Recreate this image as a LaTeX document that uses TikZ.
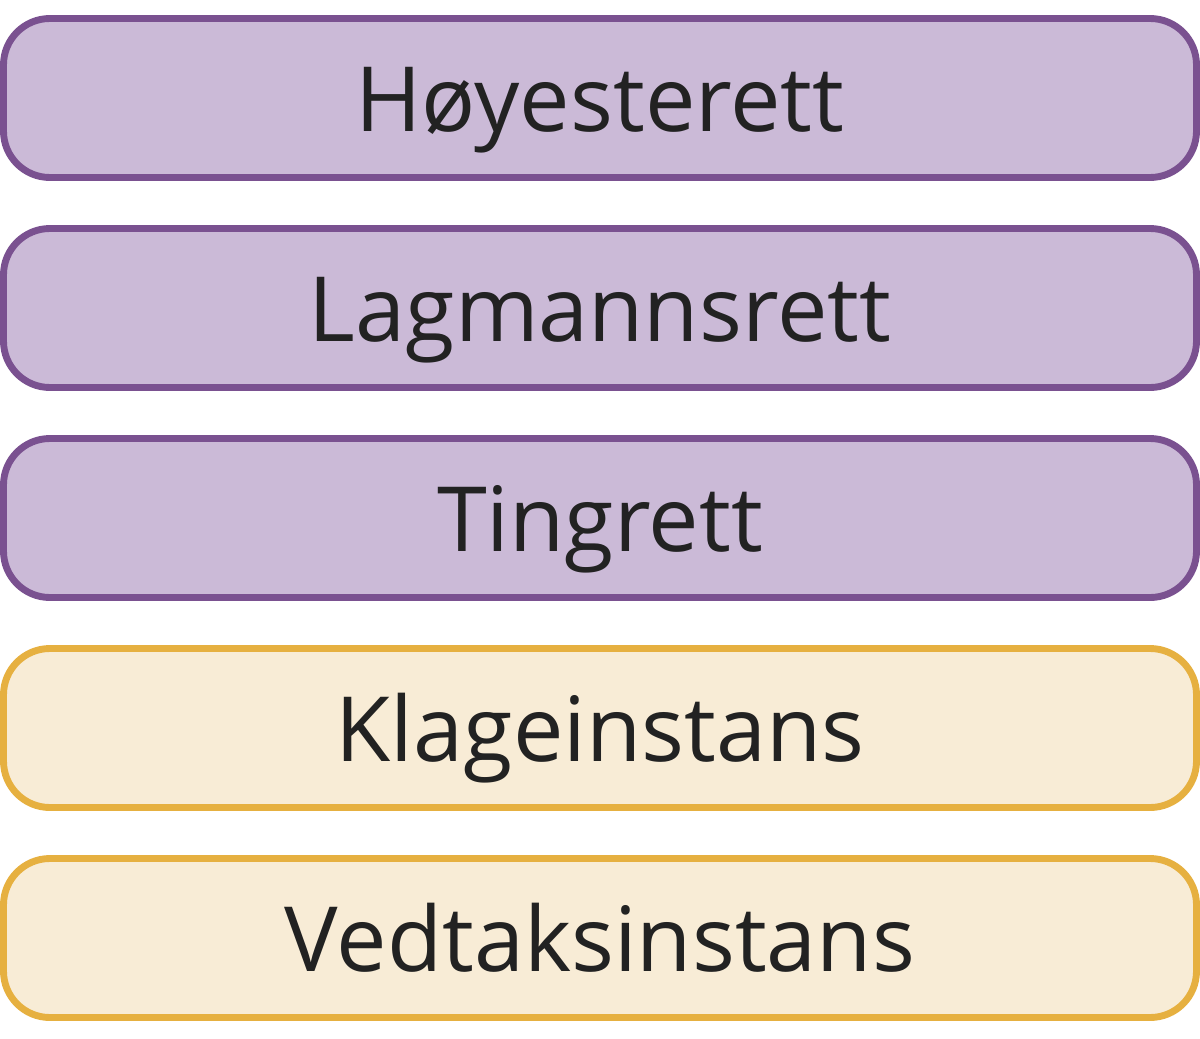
\documentclass[tikz,border=0pt]{standalone}
\usepackage{fontspec}
\setmainfont{Open Sans}
\usetikzlibrary{positioning}
\definecolor{courtline}{HTML}{7A5190}
\definecolor{courtfill}{HTML}{CBBAD7}
\definecolor{adminline}{HTML}{E6B040}
\definecolor{adminfill}{HTML}{F8ECD6}
\definecolor{textgray}{HTML}{222222}
\begin{document}
\begin{tikzpicture}[align=center, node distance=52.5mm, main/.style = {draw, rounded corners=11.6mm, line width=4.9pt, minimum width=298.25mm, minimum height=39.75mm, inner sep=0pt, text height=16.75mm, text depth=0pt, text=textgray, font=\fontsize{64}{64}\selectfont}]
	\useasboundingbox (0,0) rectangle (30,-25.95);
	\node[main, draw = courtline, fill = courtfill] (1) at (15,-2.45) {Høyesterett};
	\node[main, draw = courtline, fill = courtfill] (2) [below of = 1] {Lagmannsrett};
	\node[main, draw = courtline, fill = courtfill] (3) [below of = 2] {Tingrett};
	\node[main, draw = adminline, fill = adminfill] (4) [below of = 3] {Klageinstans};
	\node[main, draw = adminline, fill = adminfill] (5) [below of = 4] {Vedtaksinstans};
\end{tikzpicture}
\end{document}
